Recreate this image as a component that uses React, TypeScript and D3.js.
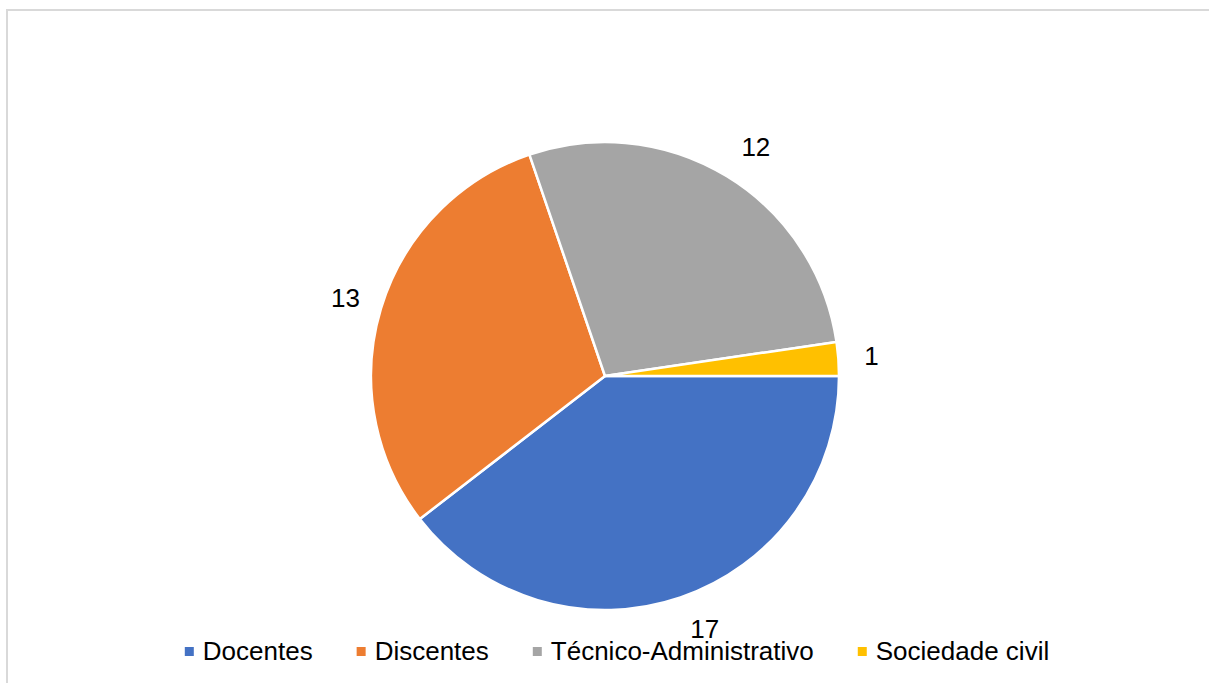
import React from "react";
import * as d3 from "d3";

const categories = ["Docentes", "Discentes", "Técnico-Administrativo", "Sociedade civil"];
const values = [17, 13, 12, 1];
const colors = ["#4472C4", "#ED7D31", "#A5A5A5", "#FFC000"];

const W = 1209;
const H = 683;
const FONT = "'Liberation Sans', Arial, sans-serif";
const FS = 26;

function measure(text: string, size: number): number {
  const c = document.createElement("canvas").getContext("2d");
  if (!c) return text.length * size * 0.55;
  c.font = `${size}px 'Liberation Sans', Arial, sans-serif`;
  return c.measureText(text).width;
}

export default function App() {
  const cx = 605;
  const cy = 376;
  const r = 234;

  const data = categories.map((c, i) => ({ name: c, value: values[i], color: colors[i] }));
  const pie = d3
    .pie<{ name: string; value: number; color: string }>()
    .value((d) => d.value)
    .sort(null)
    .startAngle(Math.PI / 2)
    .endAngle(Math.PI / 2 + 2 * Math.PI);
  const arcs = pie(data);
  const arcGen = d3.arc<d3.PieArcDatum<any>>().innerRadius(0).outerRadius(r);

  // legend layout
  const marker = 9;
  const markerGap = 9;
  const itemGap = 44;
  const widths = categories.map((c) => measure(c, FS));
  const itemWidths = widths.map((w) => marker + markerGap + w);
  const total = d3.sum(itemWidths) + itemGap * (categories.length - 1);
  const legendCenter = 617;
  let lx = legendCenter - total / 2;
  const legendItems = categories.map((c, i) => {
    const x = lx;
    lx += itemWidths[i] + itemGap;
    return { name: c, x, color: colors[i] };
  });
  const legendBaseline = 660;

  return (
    <svg
      width={W}
      height={H}
      style={{ position: "absolute", left: 0, top: 0, background: "#fff" }}
      fontFamily={FONT}
    >
      <rect x={0} y={0} width={W} height={H} fill="#fff" />
      <rect x={7} y={10} width={W + 20} height={H + 20} fill="none" stroke="#d9d9d9" strokeWidth={2} />
      <g transform={`translate(${cx},${cy})`}>
        {arcs.map((a, i) => (
          <path key={i} d={arcGen(a) || ""} fill={a.data.color} stroke="#fff" strokeWidth={2.5} strokeLinejoin="round" />
        ))}
      </g>
      {arcs.map((a, i) => {
        const mid = (a.startAngle + a.endAngle) / 2;
        const s = Math.sin(mid);
        const co = Math.cos(mid);
        const label = String(a.data.value);
        const w = measure(label, FS);
        const capH = 19;
        const rr = r + 24;
        const x = cx + rr * s + Math.sign(s) * (w / 2) + 2;
        const y = cy - rr * co - co * (capH / 2);
        return (
          <text key={i} x={x} y={y + capH / 2 - 1} textAnchor="middle" fontSize={FS} fill="#000">
            {label}
          </text>
        );
      })}
      {legendItems.map((it, i) => (
        <g key={i}>
          <rect x={it.x} y={legendBaseline - 13} width={marker} height={marker} fill={it.color} />
          <text x={it.x + marker + markerGap} y={legendBaseline} fontSize={FS} fill="#000">
            {it.name}
          </text>
        </g>
      ))}
    </svg>
  );
}
